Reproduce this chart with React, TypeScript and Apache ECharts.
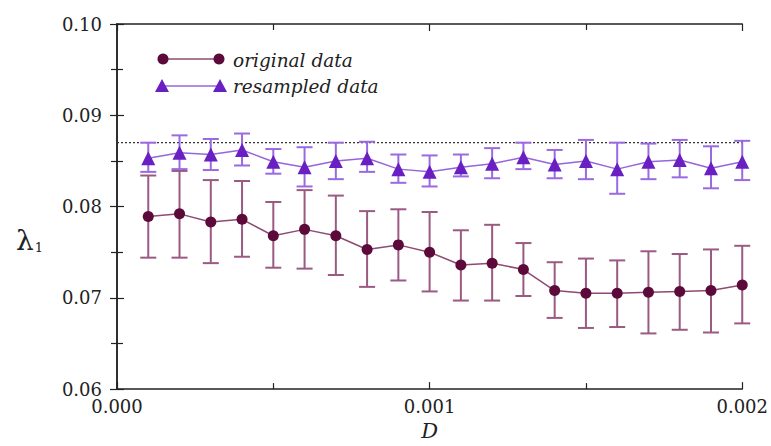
import React, { useEffect, useRef } from "react";
import * as echarts from "echarts";

const dValues = [0.0001, 0.0002, 0.0003, 0.0004, 0.0005, 0.0006, 0.0007, 0.0008, 0.0009, 0.001,
  0.0011, 0.0012, 0.0013, 0.0014, 0.0015, 0.0016, 0.0017, 0.0018, 0.0019, 0.002];

const originalMean = [0.0789, 0.0792, 0.0783, 0.0786, 0.0768, 0.0775, 0.0768, 0.0753, 0.0758, 0.075,
  0.0736, 0.0738, 0.0731, 0.0708, 0.0705, 0.0705, 0.0706, 0.0707, 0.0708, 0.0714];
const originalLow = [0.0744, 0.0744, 0.0738, 0.0745, 0.0733, 0.0732, 0.0725, 0.0712, 0.0719, 0.0707,
  0.0697, 0.0697, 0.0702, 0.0678, 0.0667, 0.0668, 0.0661, 0.0665, 0.0662, 0.0672];
const originalHigh = [0.0834, 0.0839, 0.0829, 0.0828, 0.0805, 0.0818, 0.0812, 0.0795, 0.0797, 0.0794,
  0.0774, 0.078, 0.076, 0.0739, 0.0743, 0.0741, 0.0751, 0.0748, 0.0753, 0.0757];

const resampledMean = [0.0853, 0.0859, 0.0857, 0.0862, 0.0849, 0.0843, 0.085, 0.0853, 0.0841, 0.0838,
  0.0843, 0.0847, 0.0854, 0.0846, 0.085, 0.0841, 0.0849, 0.0851, 0.0842, 0.0849];
const resampledLow = [0.0838, 0.0841, 0.084, 0.0845, 0.0836, 0.0822, 0.083, 0.0838, 0.0826, 0.0822,
  0.0833, 0.0831, 0.0841, 0.0831, 0.083, 0.0814, 0.083, 0.0832, 0.082, 0.0829];
const resampledHigh = [0.087, 0.0878, 0.0874, 0.088, 0.0863, 0.0865, 0.087, 0.0871, 0.0857, 0.0856,
  0.0857, 0.0864, 0.087, 0.0862, 0.0873, 0.087, 0.0869, 0.0873, 0.0866, 0.0872];

const referenceLevel = 0.087;
const referenceSpan = [0.0, 0.002];
const xTickValues = [0.0, 0.001, 0.002];
const yTickValues = [0.06, 0.07, 0.08, 0.09, 0.1];
const seriesNames = ["original data", "resampled data"];

const ORIG_MARK = "#5c0a3a";
const ORIG_LINE = "#8e4a72";
const ORIG_ERR = "#9a5a82";
const RES_MARK = "#6a1fc2";
const RES_LINE = "#9466dc";
const RES_ERR = "#9a6ae0";
const SERIF = "DejaVu Serif";

function errorSeries(low: number[], high: number[], color: string) {
  return {
    type: "custom",
    z: 1,
    silent: true,
    data: dValues.map((x, i) => [x, low[i], high[i]]),
    encode: { x: 0, y: [1, 2] },
    renderItem: (_params: any, api: any) => {
      const x = api.value(0);
      const lo = api.coord([x, api.value(1)]);
      const hi = api.coord([x, api.value(2)]);
      const w = 8;
      const style = { stroke: color, lineWidth: 2 };
      return {
        type: "group",
        children: [
          { type: "line", shape: { x1: lo[0], y1: lo[1], x2: hi[0], y2: hi[1] }, style },
          { type: "line", shape: { x1: lo[0] - w, y1: lo[1], x2: lo[0] + w, y2: lo[1] }, style },
          { type: "line", shape: { x1: hi[0] - w, y1: hi[1], x2: hi[0] + w, y2: hi[1] }, style },
        ],
      };
    },
  };
}

export default function App() {
  const ref = useRef<HTMLDivElement>(null);
  useEffect(() => {
    if (!ref.current) return;
    const chart = echarts.init(ref.current, null, { renderer: "svg" });
    const axisLine = { show: true, lineStyle: { color: "#222", width: 1.5 } };
    const axisTick = { show: true, inside: true, length: 7, lineStyle: { color: "#222", width: 1.2 } };
    const minorTick = { show: true, splitNumber: 2, length: 6, lineStyle: { color: "#222", width: 1.2 } };
    chart.setOption({
      animation: false,
      backgroundColor: "#fff",
      grid: { left: 117, right: 28, top: 24, bottom: 54 },
      xAxis: [
        {
          type: "value", min: 0, max: 0.002, interval: 0.001,
          axisLine, axisTick, minorTick, splitLine: { show: false },
          axisLabel: {
            margin: 8, color: "#222", fontFamily: SERIF, fontSize: 18,
            formatter: (v: number) => (xTickValues.some((t) => Math.abs(t - v) < 1e-9) ? v.toFixed(3) : ""),
          },
          name: "D", nameLocation: "middle", nameGap: 29,
          nameTextStyle: { fontFamily: SERIF, fontStyle: "italic", fontSize: 21, color: "#222" },
        },
        {
          type: "value", min: 0, max: 0.002, interval: 0.001, position: "top",
          axisLine, axisTick, minorTick, splitLine: { show: false }, axisLabel: { show: false },
        },
      ],
      yAxis: [
        {
          type: "value", min: 0.06, max: 0.1, interval: 0.01,
          axisLine, axisTick, minorTick, splitLine: { show: false },
          axisLabel: {
            margin: 15, color: "#222", fontFamily: SERIF, fontSize: 18,
            formatter: (v: number) => (yTickValues.some((t) => Math.abs(t - v) < 1e-9) ? v.toFixed(2) : ""),
          },
        },
        {
          type: "value", min: 0.06, max: 0.1, interval: 0.01, position: "right",
          axisLine, axisTick, minorTick, splitLine: { show: false }, axisLabel: { show: false },
        },
      ],
      series: [
        {
          type: "line", z: 0, silent: true,
          data: referenceSpan.map((x) => [x, referenceLevel]),
          symbol: "none",
          lineStyle: { color: "#333", type: [2, 2], width: 1.2 },
        },
        errorSeries(originalLow, originalHigh, ORIG_ERR),
        errorSeries(resampledLow, resampledHigh, RES_ERR),
        {
          name: seriesNames[0], type: "line", z: 3,
          data: dValues.map((x, i) => [x, originalMean[i]]),
          symbol: "circle", symbolSize: 11,
          itemStyle: { color: ORIG_MARK },
          lineStyle: { color: ORIG_LINE, width: 1.5 },
        },
        {
          name: seriesNames[1], type: "line", z: 3,
          data: dValues.map((x, i) => [x, resampledMean[i]]),
          symbol: "triangle", symbolSize: 14,
          itemStyle: { color: RES_MARK },
          lineStyle: { color: RES_LINE, width: 1.5 },
        },
      ],
      graphic: [
        {
          type: "text", x: 16, y: 240,
          style: {
            text: "{l|λ}{s|1}", verticalAlign: "middle",
            rich: {
              l: { fontFamily: SERIF, fontSize: 28, fill: "#222" },
              s: { fontFamily: SERIF, fontSize: 13, fill: "#222", padding: [14, 0, 0, 1] },
            },
          },
        },
        { type: "line", shape: { x1: 163, y1: 59, x2: 219, y2: 59 }, style: { stroke: ORIG_LINE, lineWidth: 1.5 } },
        { type: "circle", shape: { cx: 163, cy: 59, r: 5.5 }, style: { fill: ORIG_MARK } },
        { type: "circle", shape: { cx: 219, cy: 59, r: 5.5 }, style: { fill: ORIG_MARK } },
        { type: "text", x: 233, y: 60, style: { text: seriesNames[0], fontFamily: SERIF, fontStyle: "italic", fontSize: 18.5, fill: "#222", verticalAlign: "middle" } },
        { type: "line", shape: { x1: 162, y1: 86, x2: 220, y2: 86 }, style: { stroke: RES_LINE, lineWidth: 1.5 } },
        { type: "polygon", shape: { points: [[162, 79], [155, 92], [169, 92]] }, style: { fill: RES_MARK } },
        { type: "polygon", shape: { points: [[220, 79], [213, 92], [227, 92]] }, style: { fill: RES_MARK } },
        { type: "text", x: 233, y: 86, style: { text: seriesNames[1], fontFamily: SERIF, fontStyle: "italic", fontSize: 18.5, fill: "#222", verticalAlign: "middle" } },
      ],
    });
    return () => chart.dispose();
  }, []);
  return <div ref={ref} style={{ width: 771, height: 446, position: "absolute", left: 0, top: 0 }} />;
}
